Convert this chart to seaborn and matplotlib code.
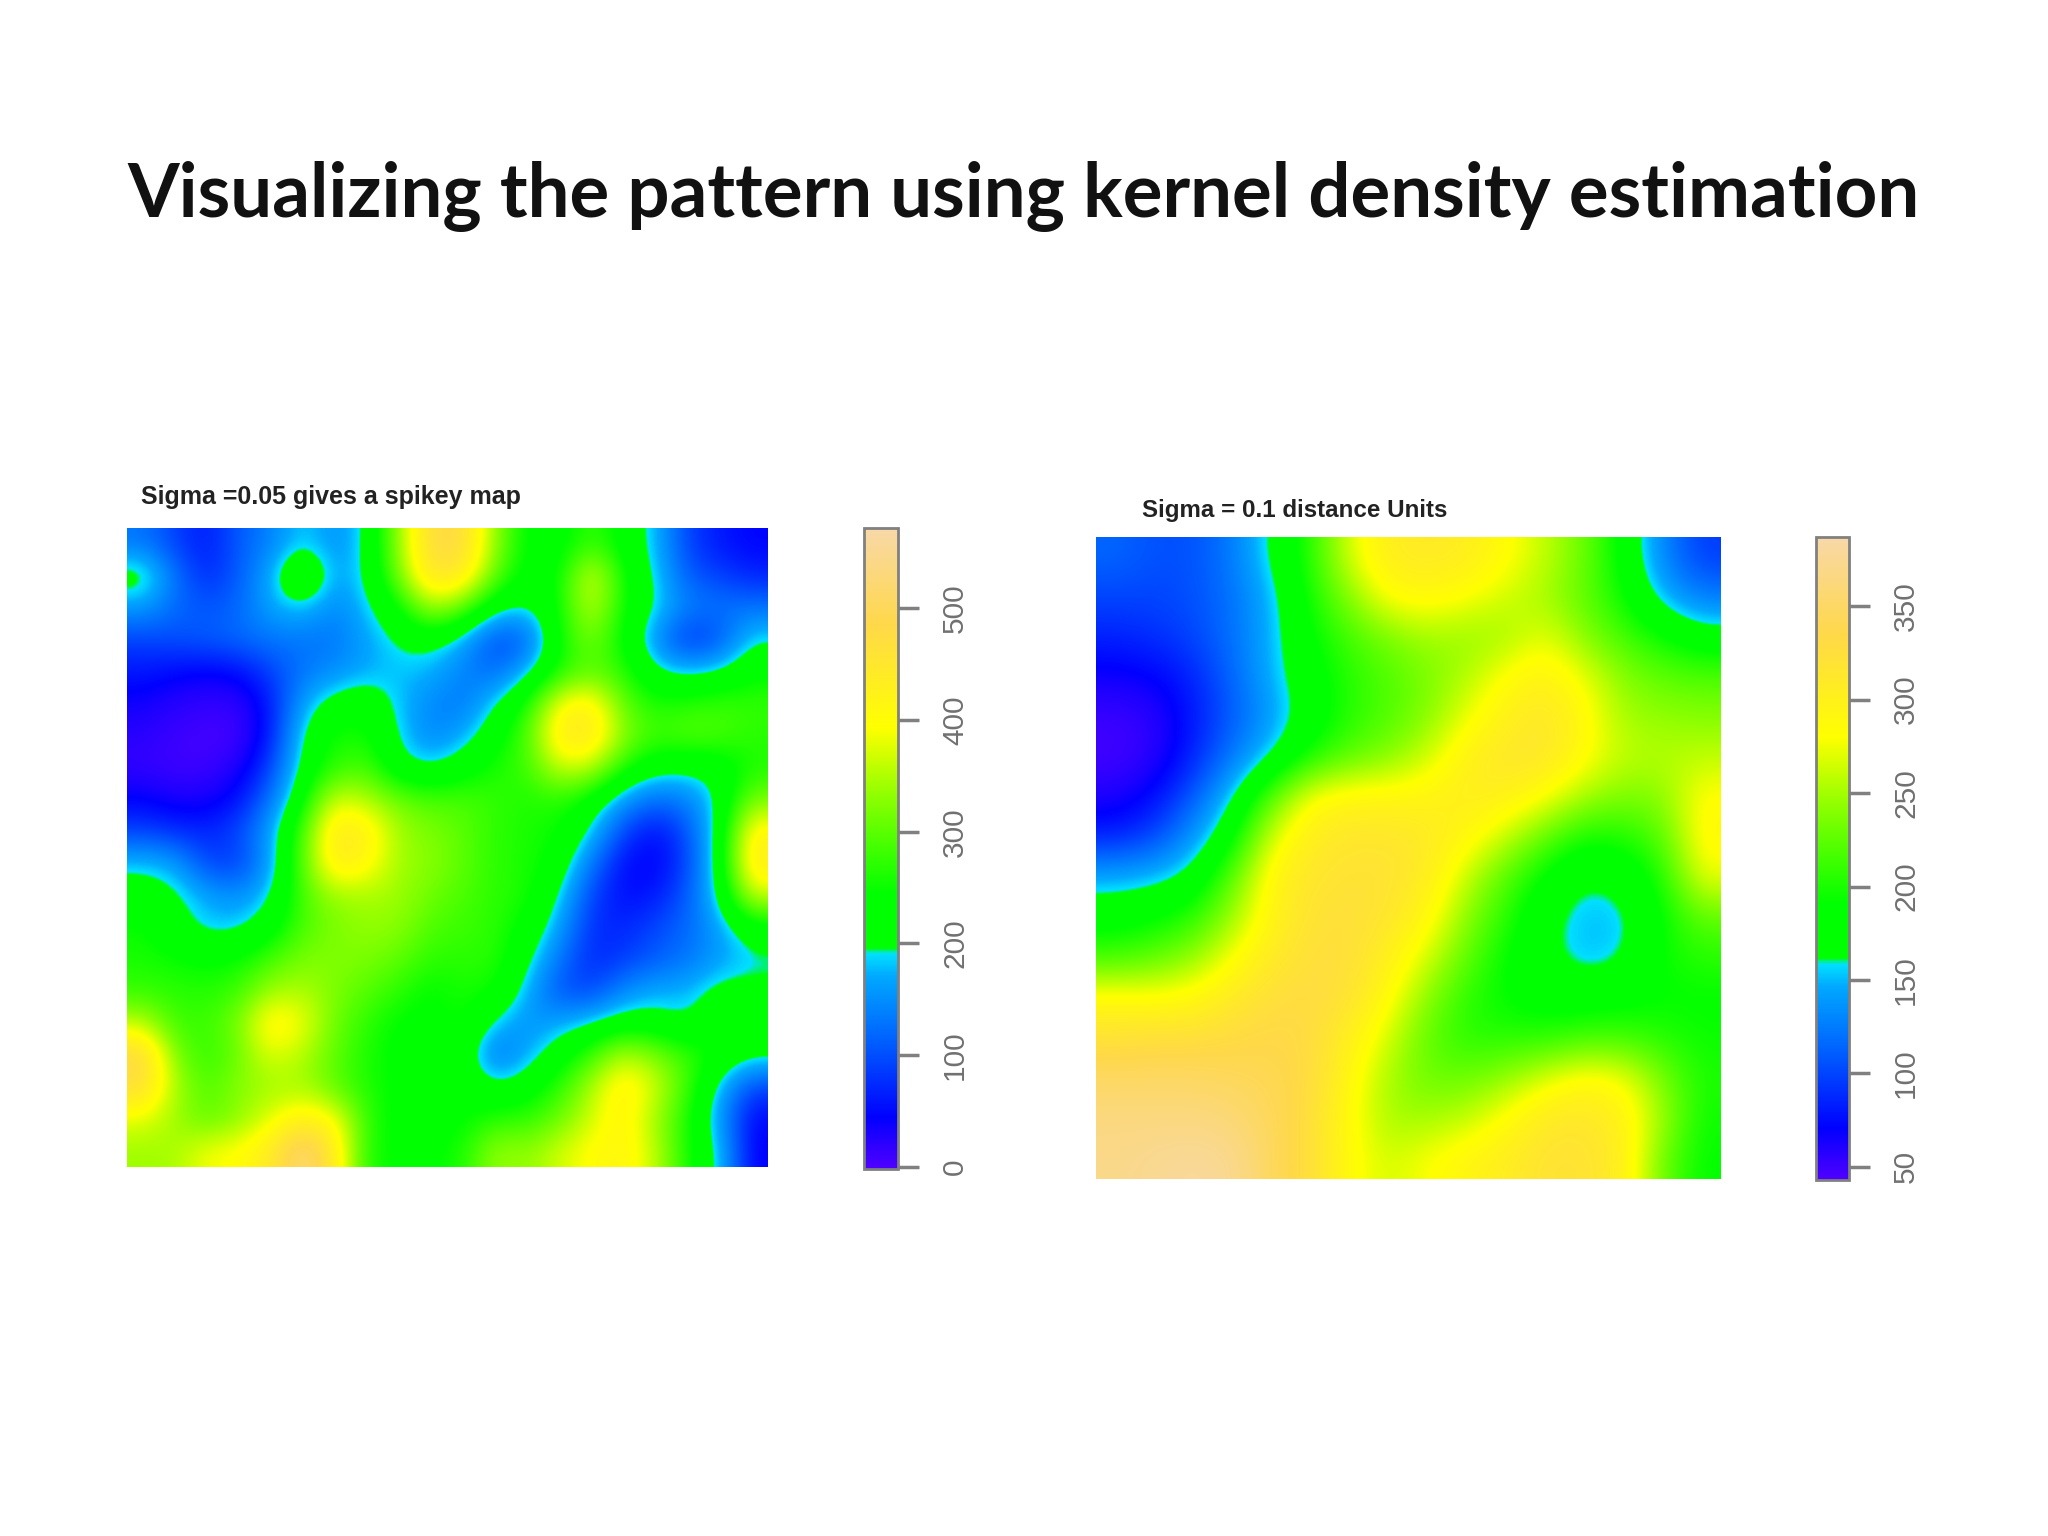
import matplotlib
matplotlib.use('Agg')
import matplotlib.pyplot as plt
from matplotlib.colors import LinearSegmentedColormap
import numpy as np
import seaborn as sns

title = 'Visualizing the pattern using kernel density estimation'
left_title = 'Sigma =0.05 gives a spikey map'
right_title = 'Sigma = 0.1 distance Units'

left_ticks = [0, 100, 200, 300, 400, 500]
right_ticks = [50, 100, 150, 200, 250, 300, 350]
left_range = (-2, 572)
right_range = (43, 387)

# values, top row first
left_grid = [
    [130, 90, 60, 110, 140, 190, 150, 195, 340, 480, 480, 330, 235, 225, 280, 230, 180, 90, 60, 45],
    [230, 130, 70, 110, 175, 285, 160, 195, 320, 460, 440, 300, 225, 240, 390, 250, 190, 110, 90, 70],
    [160, 120, 105, 120, 170, 185, 140, 185, 240, 350, 300, 205, 190, 250, 370, 250, 195, 140, 130, 130],
    [90, 100, 110, 120, 130, 130, 130, 165, 200, 210, 170, 90, 110, 250, 320, 240, 150, 70, 100, 195],
    [60, 50, 40, 50, 90, 130, 150, 170, 180, 175, 140, 120, 180, 260, 300, 270, 200, 185, 200, 240],
    [35, 20, 15, 15, 60, 170, 220, 235, 180, 145, 130, 195, 260, 400, 430, 300, 260, 270, 280, 275],
    [20, 10, 5, 5, 60, 205, 260, 255, 190, 140, 170, 230, 290, 440, 450, 330, 280, 300, 290, 270],
    [15, 8, 10, 25, 90, 215, 270, 290, 205, 190, 225, 260, 280, 370, 360, 260, 215, 205, 215, 260],
    [45, 30, 30, 55, 130, 240, 380, 350, 310, 290, 290, 275, 260, 270, 230, 160, 120, 140, 200, 320],
    [90, 75, 70, 95, 170, 290, 450, 430, 340, 320, 300, 270, 260, 250, 190, 90, 50, 100, 210, 420],
    [185, 170, 90, 85, 165, 300, 440, 410, 340, 330, 300, 270, 260, 230, 130, 50, 40, 90, 215, 440],
    [225, 205, 170, 150, 190, 290, 340, 345, 340, 310, 290, 270, 260, 195, 90, 50, 60, 110, 200, 370],
    [250, 215, 180, 185, 225, 290, 320, 335, 330, 290, 280, 270, 235, 165, 75, 70, 95, 120, 165, 225],
    [260, 250, 240, 250, 285, 320, 325, 320, 300, 270, 270, 270, 205, 130, 70, 85, 110, 130, 160, 185],
    [275, 270, 265, 280, 345, 350, 320, 295, 270, 240, 260, 250, 175, 100, 90, 150, 175, 175, 215, 205],
    [360, 280, 280, 320, 430, 390, 310, 270, 240, 235, 255, 185, 150, 170, 195, 220, 215, 190, 245, 245],
    [490, 320, 270, 310, 380, 350, 300, 260, 235, 230, 230, 120, 170, 225, 280, 360, 320, 280, 240, 210],
    [470, 350, 290, 330, 340, 345, 300, 260, 240, 240, 240, 200, 225, 270, 350, 430, 370, 280, 180, 90],
    [380, 340, 300, 330, 380, 430, 400, 275, 230, 230, 240, 270, 270, 310, 370, 420, 340, 260, 160, 45],
    [340, 345, 390, 400, 440, 540, 440, 260, 240, 240, 260, 340, 330, 370, 400, 420, 360, 255, 190, 40],
]

# values, top row first
right_grid = [
    [115, 105, 105, 125, 165, 205, 270, 305, 310, 305, 285, 260, 230, 185, 130, 95],
    [100, 100, 105, 120, 150, 200, 240, 285, 290, 280, 265, 250, 225, 195, 150, 125],
    [85, 90, 100, 120, 150, 190, 215, 235, 250, 245, 250, 275, 240, 215, 195, 175],
    [65, 70, 85, 115, 150, 180, 205, 220, 235, 255, 285, 300, 275, 240, 225, 220],
    [50, 55, 80, 110, 140, 175, 205, 220, 240, 275, 300, 315, 290, 250, 245, 240],
    [48, 55, 85, 125, 160, 200, 225, 240, 265, 300, 315, 315, 285, 260, 255, 260],
    [60, 75, 110, 160, 225, 285, 295, 295, 295, 305, 300, 280, 250, 235, 240, 285],
    [85, 100, 140, 185, 270, 305, 315, 315, 310, 290, 260, 225, 195, 200, 220, 290],
    [150, 155, 170, 225, 295, 315, 320, 320, 305, 260, 220, 185, 160, 170, 200, 275],
    [180, 190, 205, 250, 295, 320, 325, 315, 290, 240, 205, 168, 150, 152, 190, 225],
    [215, 225, 245, 280, 310, 325, 325, 300, 265, 225, 190, 168, 150, 158, 195, 205],
    [290, 285, 290, 310, 325, 330, 320, 285, 240, 205, 190, 180, 180, 185, 190, 190],
    [320, 325, 325, 330, 335, 330, 300, 265, 225, 205, 205, 205, 215, 215, 205, 195],
    [350, 350, 350, 345, 340, 330, 290, 250, 230, 230, 245, 270, 290, 280, 235, 200],
    [365, 365, 365, 360, 345, 325, 285, 250, 250, 260, 285, 310, 315, 300, 250, 195],
    [370, 375, 380, 375, 345, 325, 285, 265, 280, 295, 305, 320, 320, 305, 230, 190],
]

# spatstat style beach colours, sharp jump from cyan to green at sea level
beach = LinearSegmentedColormap.from_list('beach', [
    (0.00, '#5000ff'),
    (0.08, '#0000ff'),
    (0.20, '#0060ff'),
    (0.30, '#00a8ff'),
    (0.335, '#00e0ff'),
    (0.345, '#00ff00'),
    (0.43, '#00ff00'),
    (0.58, '#8cff00'),
    (0.69, '#ffff00'),
    (0.85, '#ffd84a'),
    (1.00, '#f8d8a8'),
], N=512)


def kde_panel(fig, grid, vrange, ticks, box, cbox, label, label_xy, label_size):
    ax = fig.add_axes(box)
    cax = fig.add_axes(cbox)
    data = np.array(grid)
    sns.heatmap(data, ax=ax, cmap=beach, vmin=vrange[0], vmax=vrange[1],
                xticklabels=False, yticklabels=False, cbar_ax=cax,
                cbar_kws={'ticks': ticks})
    mesh = ax.collections[0]
    cbar = mesh.colorbar
    # heatmap cells are blocky, the original surface is smooth
    mesh.set_visible(False)
    ax.imshow(data, cmap=beach, vmin=vrange[0], vmax=vrange[1], aspect='auto',
              interpolation='bicubic', extent=(0, data.shape[1], data.shape[0], 0))
    ax.set_xlim(0, data.shape[1])
    ax.set_ylim(data.shape[0], 0)
    ax.set_axis_off()

    cax.tick_params(axis='y', length=15, width=2.5, color='#808080', labelcolor='#707070',
                    labelsize=21.5, pad=16, right=True, left=False)
    for t in cax.get_yticklabels():
        t.set_rotation(90)
        t.set_va('center')
        t.set_family('Liberation Sans')
    cbar.outline.set_edgecolor('#808080')
    cbar.outline.set_linewidth(2)
    cbar.outline.set_visible(True)
    fig.text(label_xy[0] / 2048, 1 - label_xy[1] / 1536, label, fontsize=label_size,
             fontweight='bold', family='Liberation Sans', color='#222222', va='center')


if __name__ == '__main__':
    sns.set_theme(style='white')
    fig = plt.figure(figsize=(20.48, 15.36), dpi=100)

    fig.text(1024 / 2048, 1 - 197 / 1536, title, fontsize=53.6, fontweight='bold',
             family='Lato', color='#111111', ha='center', va='center')

    kde_panel(fig, left_grid, left_range, left_ticks,
              [127 / 2048, 1 - 1167 / 1536, 641 / 2048, 639 / 1536],
              [864 / 2048, 1 - 1169 / 1536, 34 / 2048, 641 / 1536],
              left_title, (141, 497), 18)
    kde_panel(fig, right_grid, right_range, right_ticks,
              [1096 / 2048, 1 - 1179 / 1536, 625 / 2048, 642 / 1536],
              [1816 / 2048, 1 - 1180 / 1536, 33 / 2048, 643 / 1536],
              right_title, (1142, 510), 17.4)

    plt.savefig('out.png', dpi=100)
